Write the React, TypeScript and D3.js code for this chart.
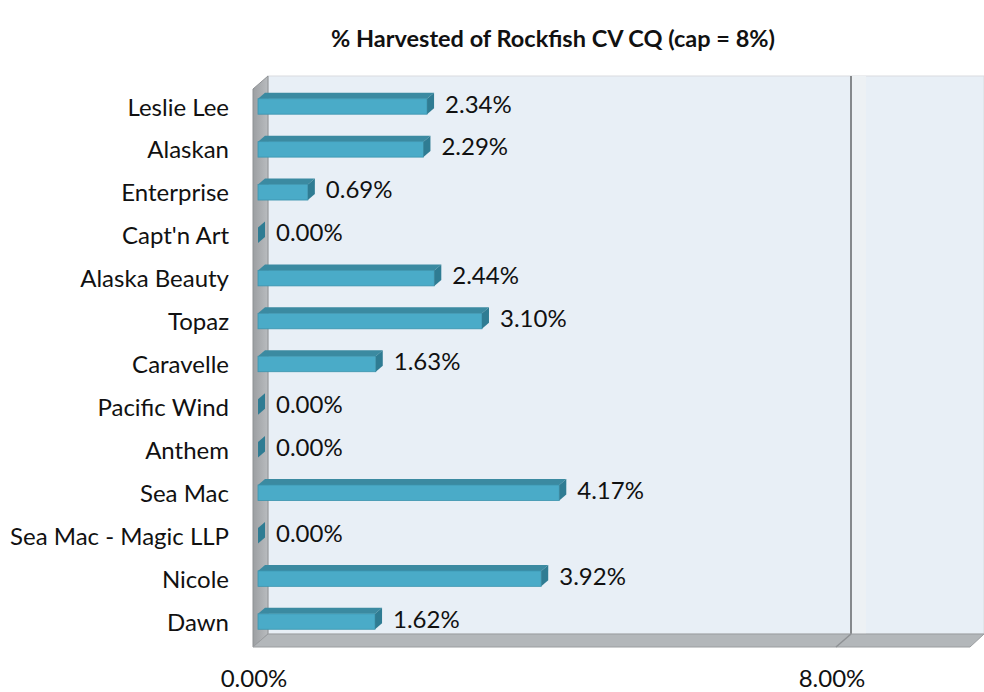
import React, { useEffect, useRef } from "react";
import * as d3 from "d3";

const vessels = [
  "Leslie Lee", "Alaskan", "Enterprise", "Capt'n Art", "Alaska Beauty", "Topaz",
  "Caravelle", "Pacific Wind", "Anthem", "Sea Mac", "Sea Mac - Magic LLP", "Nicole", "Dawn",
];
const harvested = [2.34, 2.29, 0.69, 0.0, 2.44, 3.1, 1.63, 0.0, 0.0, 4.17, 0.0, 3.92, 1.62];
const xTicks = [0, 8];

export default function App() {
  const ref = useRef<SVGSVGElement>(null);

  useEffect(() => {
    const width = 984;
    const height = 692;
    const svg = d3.select(ref.current).attr("width", width).attr("height", height);
    svg.selectAll("*").remove();

    const font = "Lato, 'Open Sans', sans-serif";
    const depthX = 15, depthY = 13;   // wall depth
    const frontLeft = 253, frontTop = 89, frontBottom = 647;
    const backLeft = frontLeft + depthX, backTop = frontTop - depthY, backBottom = frontBottom - depthY;

    const x = d3.scaleLinear().domain([0, 8]).range([258, 836]);
    const y = d3.scaleBand<string>().domain(vessels).range([frontTop, frontBottom]).paddingInner(0.64).paddingOuter(0.32);

    const defs = svg.append("defs");
    const wg = defs.append("linearGradient").attr("id", "wallg").attr("x1", 0).attr("x2", 1);
    wg.append("stop").attr("offset", "0%").attr("stop-color", "#9c9fa2");
    wg.append("stop").attr("offset", "100%").attr("stop-color", "#b9bcbf");

    // back wall
    svg.append("rect").attr("x", backLeft).attr("y", backTop)
      .attr("width", width - backLeft).attr("height", backBottom - backTop)
      .attr("fill", "#e8eff6").attr("stroke", "#d9dcdf").attr("stroke-width", 1);

    // gridline at 8%
    const gx = x(8) + depthX;
    svg.append("rect").attr("x", gx + 1).attr("y", backTop).attr("width", 14).attr("height", backBottom - backTop).attr("fill", "#edf1f4");
    svg.append("line").attr("x1", gx).attr("x2", gx).attr("y1", backTop).attr("y2", backBottom)
      .attr("stroke", "#86898c").attr("stroke-width", 2);

    // left wall
    svg.append("polygon")
      .attr("points", [[frontLeft, frontTop], [backLeft, backTop], [backLeft, backBottom], [frontLeft, frontBottom]].map(p => p.join(",")).join(" "))
      .attr("fill", "url(#wallg)").attr("stroke", "#8e9194").attr("stroke-width", 1);

    // floor
    svg.append("polygon")
      .attr("points", [[frontLeft, frontBottom], [backLeft, backBottom], [width, backBottom], [width - depthX + 1, frontBottom]].map(p => p.join(",")).join(" "))
      .attr("fill", "#b3b7ba").attr("stroke", "#9a9da0").attr("stroke-width", 1);
    svg.append("line").attr("x1", x(8)).attr("y1", frontBottom).attr("x2", gx).attr("y2", backBottom)
      .attr("stroke", "#8e9194").attr("stroke-width", 1.5);

    // bars
    const bx = 7, by = 6;
    const bh = y.bandwidth();
    const bars = svg.append("g").selectAll("g").data(vessels).join("g");
    bars.each(function (name, i) {
      const g = d3.select(this);
      const x0 = x(0), x1 = x(harvested[i]);
      const top = (y(name) as number) - 4;
      const bot = top + bh;
      if (x1 - x0 > 0.5) {
        g.append("polygon")
          .attr("points", [[x0, top], [x0 + bx, top - by], [x1 + bx, top - by], [x1, top]].map(p => p.join(",")).join(" "))
          .attr("fill", "#3b8aa1");
        g.append("rect").attr("x", x0).attr("y", top).attr("width", x1 - x0).attr("height", bh)
          .attr("fill", "#4aabc8").attr("stroke", "#3a93ad").attr("stroke-width", 0.8);
      }
      g.append("polygon")
        .attr("points", [[x1, top], [x1 + bx, top - by], [x1 + bx, bot - by], [x1, bot]].map(p => p.join(",")).join(" "))
        .attr("fill", "#2f7c93");
      g.append("text").attr("x", x1 + bx + 11).attr("y", top + bh / 2)
        .attr("dominant-baseline", "middle").style("font-family", font).style("font-size", "24px")
        .attr("fill", "#111").text(harvested[i].toFixed(2) + "%");
    });

    // category labels
    svg.append("g").selectAll("text").data(vessels).join("text")
      .attr("x", 229).attr("y", d => (y(d) as number) + bh / 2 - 1)
      .attr("text-anchor", "end").attr("dominant-baseline", "middle")
      .style("font-family", font).style("font-size", "24px").attr("fill", "#111").text(d => d);

    // x tick labels
    svg.append("g").selectAll("text").data(xTicks).join("text")
      .attr("x", d => x(d) - 4).attr("y", 687).attr("text-anchor", "middle")
      .style("font-family", font).style("font-size", "24px").attr("fill", "#111")
      .text(d => d.toFixed(2) + "%");

    // title
    svg.append("text").attr("x", 553).attr("y", 47).attr("text-anchor", "middle")
      .style("font-family", font).style("font-size", "23.5px").style("font-weight", "bold")
      .attr("fill", "#111").text("% Harvested of Rockfish CV CQ (cap = 8%)");
  }, []);

  return (
    <div style={{ position: "absolute", left: 0, top: 0 }}>
      <svg ref={ref}></svg>
    </div>
  );
}
